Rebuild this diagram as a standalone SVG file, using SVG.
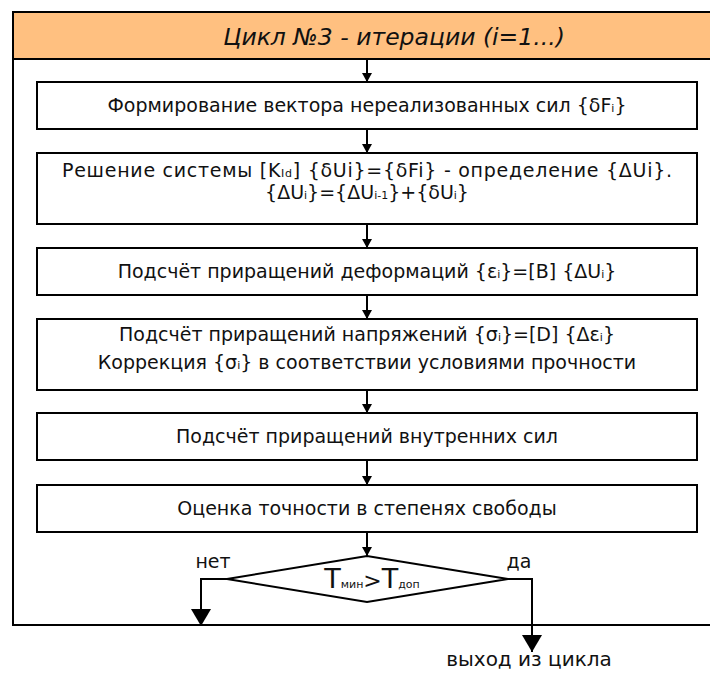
<svg xmlns="http://www.w3.org/2000/svg" width="710" height="673" viewBox="0 0 710 673">
<style>
.box{fill:#fff;stroke:#000;stroke-width:2}
.frame{fill:#fff;stroke:#000;stroke-width:2}
.hdr{fill:#FFC080;stroke:#000;stroke-width:2}
.t{font-family:"DejaVu Sans","Liberation Sans",sans-serif;font-size:19px;fill:#111;text-anchor:middle}
.title{font-family:"DejaVu Sans","Liberation Sans",sans-serif;font-size:23.5px;font-style:italic;fill:#111;text-anchor:middle}
.s{font-size:11px}
.c{fill:none;stroke:#000;stroke-width:2}
</style>
<defs>
<marker id="a" markerUnits="userSpaceOnUse" markerWidth="10" markerHeight="10" refX="9" refY="5" orient="auto"><path d="M0,0 L9,5 L0,10 z" fill="#000"/></marker>
<marker id="b" markerUnits="userSpaceOnUse" markerWidth="18" markerHeight="20" refX="17" refY="10" orient="auto"><path d="M0,0 L17,10 L0,20 z" fill="#000"/></marker>
</defs>
<g id="frame">
<rect class="frame" x="13" y="12" width="720" height="613"/>
<rect class="hdr" x="13" y="12" width="720" height="47"/>
<text class="title" x="394" y="45">Цикл №3 - итерации (i=1...)</text>
</g>
<g id="n1"><rect class="box" x="37" y="82" width="660" height="47"/>
<text class="t" x="367" y="112">Формирование вектора нереализованных сил {δF<tspan class="s">i</tspan>}</text></g>
<g id="n2"><rect class="box" x="37" y="153" width="660" height="71"/>
<text class="t" x="367" y="177" textLength="610" lengthAdjust="spacing">Решение системы [K<tspan class="s">Id</tspan>] {δUi}={δFi} - определение {ΔUi}.</text>
<text class="t" x="367" y="199">{ΔU<tspan class="s">i</tspan>}={ΔU<tspan class="s">i-1</tspan>}+{δU<tspan class="s">i</tspan>}</text></g>
<g id="n3"><rect class="box" x="37" y="248" width="660" height="47"/>
<text class="t" x="367" y="278">Подсчёт приращений деформаций {ε<tspan class="s">i</tspan>}=[B] {ΔU<tspan class="s">i</tspan>}</text></g>
<g id="n4"><rect class="box" x="37" y="319" width="660" height="71"/>
<text class="t" x="367" y="341">Подсчёт приращений напряжений {σ<tspan class="s">i</tspan>}=[D] {Δε<tspan class="s">i</tspan>}</text>
<text class="t" x="367" y="369">Коррекция {σ<tspan class="s">i</tspan>} в соответствии условиями прочности</text></g>
<g id="n5"><rect class="box" x="37" y="413" width="660" height="47"/>
<text class="t" x="367" y="443">Подсчёт приращений внутренних сил</text></g>
<g id="n6"><rect class="box" x="37" y="485" width="660" height="47"/>
<text class="t" x="367" y="515">Оценка точности в степенях свободы</text></g>
<g id="d1"><path class="box" d="M227,579 L367,556 L508,579 L367,602 Z"/>
<text class="t" x="372" y="588"><tspan style="font-size:27px">T</tspan><tspan class="s">мин</tspan><tspan style="font-size:22px">&gt;</tspan><tspan style="font-size:27px">T</tspan><tspan class="s">доп</tspan></text></g>
<g id="connectors">
<line class="c" x1="367" y1="59" x2="367" y2="82" marker-end="url(#a)"/>
<line class="c" x1="367" y1="129" x2="367" y2="153" marker-end="url(#a)"/>
<line class="c" x1="367" y1="224" x2="367" y2="248" marker-end="url(#a)"/>
<line class="c" x1="367" y1="295" x2="367" y2="319" marker-end="url(#a)"/>
<line class="c" x1="367" y1="390" x2="367" y2="413" marker-end="url(#a)"/>
<line class="c" x1="367" y1="460" x2="367" y2="485" marker-end="url(#a)"/>
<line class="c" x1="367" y1="532" x2="367" y2="556" marker-end="url(#a)"/>
<path class="c" d="M227,579 H201 V626" marker-end="url(#b)"/>
<path class="c" d="M508,579 H532 V652" marker-end="url(#b)"/>
</g>
<g id="labels">
<text class="t" x="213" y="568">нет</text>
<text class="t" x="519" y="568">да</text>
<text class="t" x="529" y="666" style="font-size:20px">выход из цикла</text>
</g>
</svg>
